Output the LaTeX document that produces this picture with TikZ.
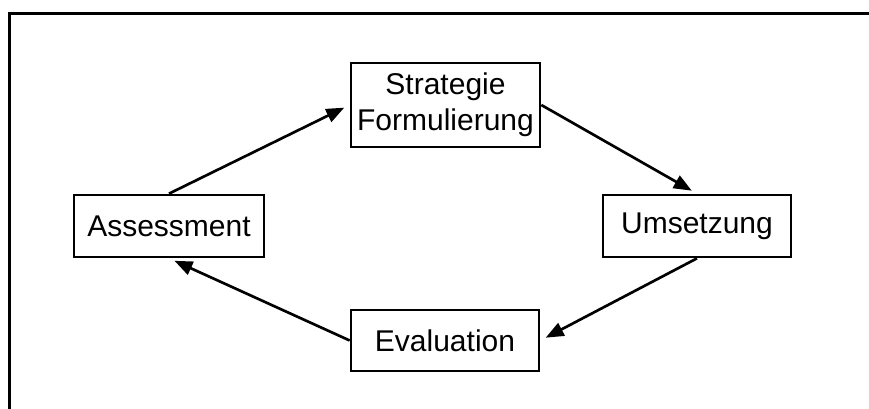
\documentclass[tikz,border=0pt]{standalone}
\usepackage{fontspec}
\setmainfont{Liberation Sans}
\usetikzlibrary{arrows.meta}
\begin{document}
\begin{tikzpicture}[x=0.75pt,y=-0.75pt,
  stagebox/.style={draw=black,line width=2pt,fill=white,align=center,inner sep=0pt,
    font=\fontsize{22.5pt}{27pt}\selectfont},
  flow/.style={line width=2pt,-{Triangle[length=13.5pt,width=10.5pt]},shorten >=4.5pt}]
\useasboundingbox (0,0) rectangle (869,409);
\draw[line width=2.25pt] (9,409) -- (9,14) -- (869,14);
\node[stagebox,minimum width=141.75pt,minimum height=63pt] (strat) at (445.5,105) {Strategie\\Formulierung};
\node[stagebox,minimum width=142.5pt,minimum height=46.5pt] (assess) at (169,226) {Assessment};
\node[stagebox,minimum width=141pt,minimum height=46.5pt] (ums) at (697,226) {Umsetzung};
\node[stagebox,minimum width=141pt,minimum height=45.75pt] (eval) at (445,340.5) {Evaluation};
\draw[flow] (assess.north) -- (strat.west);
\draw[flow] (strat.east) -- (ums.north);
\draw[flow] (ums.south) -- (eval.east);
\draw[flow] (eval.west) -- (assess.south);
\end{tikzpicture}
\end{document}
